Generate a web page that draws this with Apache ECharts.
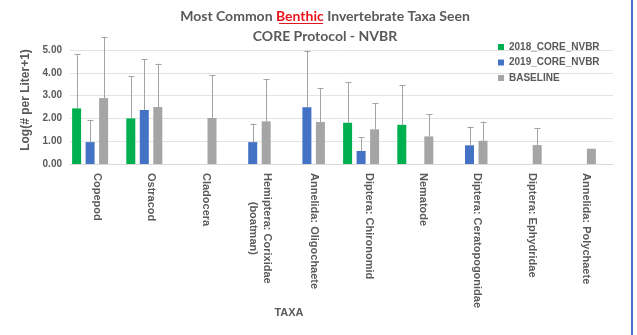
<!DOCTYPE html>
<html>
<head>
<meta charset="utf-8">
<script src="https://cdn.jsdelivr.net/npm/echarts@6/dist/echarts.min.js"></script>
<style>
  html, body { margin: 0; padding: 0; background: #fff; }
  #chart { width: 637px; height: 335px; }
</style>
</head>
<body>
<div id="chart"></div>
<script>
// Taxa shown along the x axis
var categories = [
  'Copepod', 'Ostracod', 'Cladocera', 'Hemiptera: Corixidae\n(boatman)',
  'Annelida: Oligochaete', 'Diptera: Chironomid', 'Nematode',
  'Diptera: Ceratopogonidae', 'Diptera: Ephydridae', 'Annelida: Polychaete'
];
var seriesNames = ['2018_CORE_NVBR', '2019_CORE_NVBR', 'BASELINE'];

// Mean log(# per liter + 1) per taxon
var values2018 = [2.44, 2.00, null, null, null, 1.81, 1.72, null, null, null];
var values2019 = [0.96, 2.37, null, 0.96, 2.49, 0.57, null, 0.82, null, null];
var valuesBaseline = [2.89, 2.50, 2.02, 1.87, 1.84, 1.52, 1.21, 1.02, 0.83, 0.67];

// Upper error amounts (added on top of each mean)
var err2018 = [2.37, 1.85, null, null, null, 1.77, 1.73, null, null, null];
var err2019 = [0.97, 2.22, null, 0.81, 2.48, 0.60, null, 0.82, null, null];
var errBaseline = [2.69, 1.90, 1.88, 1.84, 1.48, 1.14, 0.98, 0.84, 0.73, null];

// Y axis ticks
var yMin = 0, yMax = 5, yStep = 1;

var colors = ['#00b050', '#4472c4', '#a5a5a5'];
var BAR_W = 9, BAR_GAP = 0.5;
var stride = BAR_W * (1 + BAR_GAP);
var textGray = '#595959';
var sansFont = '"Liberation Sans", Arial, sans-serif';

function errorSeries(vals, errs, idx) {
  var data = [];
  for (var i = 0; i < vals.length; i++) {
    if (vals[i] != null && errs[i] != null) data.push([i, vals[i], vals[i] + errs[i]]);
  }
  var offset = (idx - 1) * stride;
  return {
    type: 'custom',
    xAxisIndex: 1, yAxisIndex: 1,
    clip: false,
    silent: true,
    z: 3,
    data: data,
    renderItem: function (params, api) {
      var lo = api.coord([api.value(0), api.value(1)]);
      var hi = api.coord([api.value(0), api.value(2)]);
      var x = Math.round(lo[0] + offset) + 0.5;
      var style = { stroke: '#a3a3a3', lineWidth: 1 };
      return {
        type: 'group',
        children: [
          { type: 'line', shape: { x1: x, y1: lo[1], x2: x, y2: hi[1] }, style: style },
          { type: 'line', shape: { x1: x - 3, y1: Math.round(hi[1]) + 0.5, x2: x + 3, y2: Math.round(hi[1]) + 0.5 }, style: style }
        ]
      };
    }
  };
}

function barSeries(name, vals, idx) {
  return {
    name: name,
    type: 'bar',
    xAxisIndex: 1, yAxisIndex: 1,
    barWidth: BAR_W,
    barGap: (BAR_GAP * 100) + '%',
    itemStyle: { color: colors[idx] },
    data: vals.map(function (v) { return v == null ? '-' : v; })
  };
}

var chart = echarts.init(document.getElementById('chart'), null, { renderer: 'canvas' });

chart.setOption({
  animation: false,
  color: colors,
  grid: [
    { left: 70, right: 24, top: 50, bottom: 171 },
    { left: 63, right: 32, top: 50, bottom: 171 }
  ],
  legend: {
    orient: 'vertical',
    left: 493, top: 37,
    itemWidth: 6, itemHeight: 6, itemGap: 5.5,
    icon: 'rect',
    data: seriesNames,
    textStyle: {
      fontFamily: sansFont,
      fontWeight: 'bold', fontSize: 10, color: textGray
    }
  },
  xAxis: [
    {
      type: 'category', gridIndex: 0, data: categories,
      axisLine: { show: true, lineStyle: { color: '#d9d9d9' } },
      axisTick: { show: false },
      axisLabel: {
        interval: 0, rotate: -90, margin: 9,
        fontFamily: sansFont,
        fontWeight: 'bold', fontSize: 11, color: textGray, lineHeight: 14,
        formatter: function (v) {
          var parts = v.split('\n');
          if (parts.length > 1) return '{a|' + parts[0] + '}\n{b|' + parts[1] + '}';
          return v;
        },
        rich: {
          a: { fontFamily: sansFont, fontWeight: 'bold', fontSize: 11, color: textGray, lineHeight: 14 },
          b: { fontFamily: sansFont, fontWeight: 'bold', fontSize: 11, color: textGray, lineHeight: 14, align: 'center' }
        }
      },
      splitLine: { show: false }
    },
    {
      type: 'category', gridIndex: 1, data: categories,
      axisLine: { show: false }, axisTick: { show: false }, axisLabel: { show: false }
    }
  ],
  yAxis: [
    {
      type: 'value', gridIndex: 0, min: yMin, max: yMax, interval: yStep,
      axisLine: { show: false }, axisTick: { show: false },
      axisLabel: {
        margin: 8,
        fontFamily: sansFont,
        fontWeight: 'bold', fontSize: 10, color: textGray,
        formatter: function (v) { return v.toFixed(2); }
      },
      splitLine: { lineStyle: { color: '#e3e3e3' } }
    },
    {
      type: 'value', gridIndex: 1, min: yMin, max: yMax, interval: yStep,
      axisLine: { show: false }, axisTick: { show: false },
      axisLabel: { show: false }, splitLine: { show: false }
    }
  ],
  series: [
    barSeries(seriesNames[0], values2018, 0),
    barSeries(seriesNames[1], values2019, 1),
    barSeries(seriesNames[2], valuesBaseline, 2),
    errorSeries(values2018, err2018, 0),
    errorSeries(values2019, err2019, 1),
    errorSeries(valuesBaseline, errBaseline, 2)
  ],
  graphic: [
    {
      type: 'text', x: 325, y: 16,
      style: {
        text: '{a|Most Common }{r|Benthic}{a| Invertebrate Taxa Seen}',
        align: 'center', verticalAlign: 'middle',
        rich: {
          a: { fontFamily: 'Lato, "Open Sans", sans-serif', fontWeight: 'bold', fontSize: 14, fill: textGray },
          r: { fontFamily: 'Lato, "Open Sans", sans-serif', fontWeight: 'bold', fontSize: 14, fill: '#e8141b' }
        }
      }
    },
    {
      type: 'line', shape: { x1: 279, y1: 23.5, x2: 323, y2: 23.5 },
      style: { stroke: '#e8141b', lineWidth: 1 }
    },
    {
      type: 'text', x: 325, y: 36,
      style: {
        text: 'CORE Protocol - NVBR', align: 'center', verticalAlign: 'middle',
        fontFamily: 'Lato, "Open Sans", sans-serif', fontWeight: 'bold', fontSize: 14, fill: textGray
      }
    },
    {
      type: 'text', x: 26, y: 100, rotation: Math.PI / 2,
      style: {
        text: 'Log(# per Liter+1)', align: 'center', verticalAlign: 'middle',
        fontFamily: sansFont, fontWeight: 'bold', fontSize: 12, fill: textGray
      }
    },
    {
      type: 'text', x: 289, y: 313,
      style: {
        text: 'TAXA', align: 'center', verticalAlign: 'middle',
        fontFamily: sansFont, fontWeight: 'bold', fontSize: 11, fill: textGray
      }
    },
    {
      type: 'rect', shape: { x: 631, y: 0, width: 2, height: 335 },
      style: { fill: '#4472c4' }
    }
  ]
});
</script>
</body>
</html>
